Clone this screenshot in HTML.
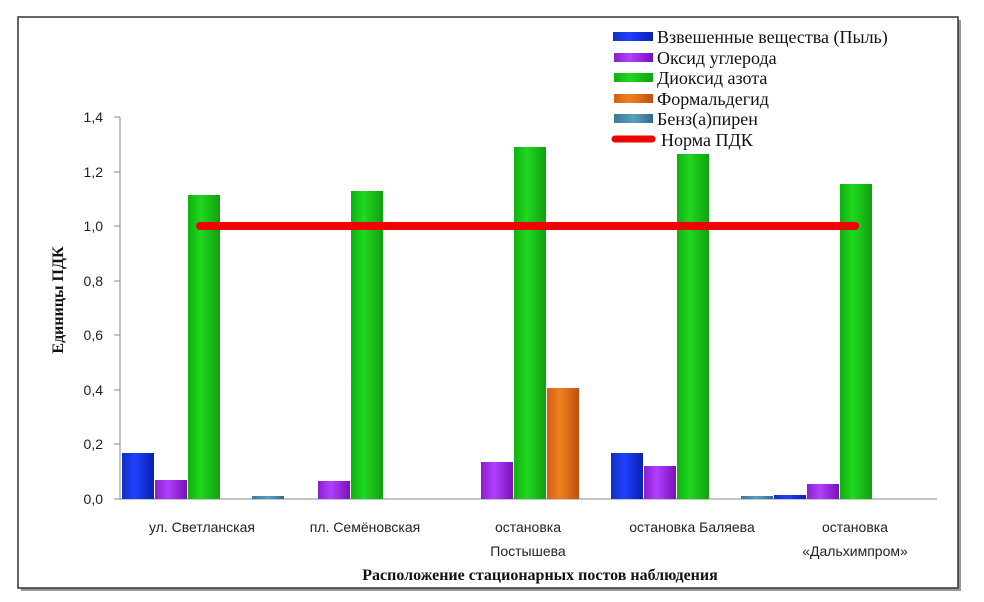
<!DOCTYPE html>
<html><head><meta charset="utf-8"><style>
body{margin:0;background:#fff;}
svg{display:block}
</style></head><body>
<svg width="984" height="602" xmlns="http://www.w3.org/2000/svg">
<defs>
<linearGradient id="gb" x1="0" x2="1"><stop offset="0" stop-color="#1030c0"/><stop offset="0.4" stop-color="#2040ff"/><stop offset="1" stop-color="#0a20b0"/></linearGradient>
<linearGradient id="gp" x1="0" x2="1"><stop offset="0" stop-color="#8a20c8"/><stop offset="0.4" stop-color="#b040ff"/><stop offset="1" stop-color="#7a10b8"/></linearGradient>
<linearGradient id="gg" x1="0" x2="1"><stop offset="0" stop-color="#10b010"/><stop offset="0.4" stop-color="#20d820"/><stop offset="1" stop-color="#10a010"/></linearGradient>
<linearGradient id="go" x1="0" x2="1"><stop offset="0" stop-color="#d06010"/><stop offset="0.4" stop-color="#f08020"/><stop offset="1" stop-color="#c05010"/></linearGradient>
<linearGradient id="gc" x1="0" x2="1"><stop offset="0" stop-color="#3a7a9a"/><stop offset="0.5" stop-color="#5aa0c0"/><stop offset="1" stop-color="#306a88"/></linearGradient>
</defs>
<rect x="21" y="20" width="940" height="571" fill="#999"/>
<rect x="18" y="17" width="940" height="571" fill="#fff" stroke="#333" stroke-width="1.5"/>
<g font-family="Liberation Sans, sans-serif" font-size="14" fill="#222" text-anchor="end">
<text x="103" y="504">0,0</text><text x="103" y="449">0,2</text><text x="103" y="395">0,4</text><text x="103" y="340">0,6</text><text x="103" y="286">0,8</text><text x="103" y="231">1,0</text><text x="103" y="177">1,2</text><text x="103" y="122">1,4</text>
</g>
<g stroke="#888" stroke-width="1">
<line x1="120" y1="117" x2="120" y2="499"/><line x1="114" y1="499" x2="937" y2="499"/>
<line x1="114" y1="117" x2="120" y2="117"/><line x1="114" y1="172" x2="120" y2="172"/><line x1="114" y1="226" x2="120" y2="226"/><line x1="114" y1="281" x2="120" y2="281"/><line x1="114" y1="335" x2="120" y2="335"/><line x1="114" y1="390" x2="120" y2="390"/><line x1="114" y1="444" x2="120" y2="444"/>
</g>
<g>
<rect x="122" y="453" width="32" height="46" fill="url(#gb)"/>
<rect x="155" y="480" width="32" height="19" fill="url(#gp)"/>
<rect x="188" y="195" width="32" height="304" fill="url(#gg)"/>
<rect x="252" y="496" width="32" height="3" fill="url(#gc)"/>
<rect x="318" y="481" width="32" height="18" fill="url(#gp)"/>
<rect x="351" y="191" width="32" height="308" fill="url(#gg)"/>
<rect x="481" y="462" width="32" height="37" fill="url(#gp)"/>
<rect x="514" y="147" width="32" height="352" fill="url(#gg)"/>
<rect x="547" y="388" width="32" height="111" fill="url(#go)"/>
<rect x="611" y="453" width="32" height="46" fill="url(#gb)"/>
<rect x="644" y="466" width="32" height="33" fill="url(#gp)"/>
<rect x="677" y="154" width="32" height="345" fill="url(#gg)"/>
<rect x="741" y="496" width="32" height="3" fill="url(#gc)"/>
<rect x="774" y="495" width="32" height="4" fill="url(#gb)"/>
<rect x="807" y="484" width="32" height="15" fill="url(#gp)"/>
<rect x="840" y="184" width="32" height="315" fill="url(#gg)"/>
</g>
<line x1="200" y1="226" x2="855" y2="226" stroke="#f00000" stroke-width="8" stroke-linecap="round"/>
<g font-family="Liberation Sans, sans-serif" font-size="14" fill="#222" text-anchor="middle">
<text x="202" y="532">ул. Светланская</text>
<text x="365" y="532">пл. Семёновская</text>
<text x="528" y="532">остановка</text><text x="528" y="556">Постышева</text>
<text x="692" y="532">остановка Баляева</text>
<text x="855" y="532">остановка</text><text x="855" y="556">«Дальхимпром»</text>
</g>
<text x="540" y="580" font-family="Liberation Serif, serif" font-weight="bold" font-size="16" text-anchor="middle" fill="#111">Расположение стационарных постов наблюдения</text>
<text transform="translate(63,300) rotate(-90)" font-family="Liberation Serif, serif" font-weight="bold" font-size="16" text-anchor="middle" fill="#111">Единицы ПДК</text>
<g font-family="Liberation Serif, serif" font-size="18" fill="#111">
<rect x="613" y="32" width="40" height="9" fill="url(#gb)"/><text x="657" y="43">Взвешенные вещества (Пыль)</text>
<rect x="614" y="53" width="39" height="9" fill="url(#gp)"/><text x="657" y="64">Оксид углерода</text>
<rect x="614" y="73" width="39" height="9" fill="url(#gg)"/><text x="657" y="84">Диоксид азота</text>
<rect x="614" y="94" width="39" height="9" fill="url(#go)"/><text x="657" y="105">Формальдегид</text>
<rect x="614" y="114" width="39" height="9" fill="url(#gc)"/><text x="657" y="125">Бенз(а)пирен</text>
<line x1="615" y1="139" x2="652" y2="139" stroke="#f00000" stroke-width="7" stroke-linecap="round"/><text x="661" y="146">Норма ПДК</text>
</g>
</svg>
</body></html>
